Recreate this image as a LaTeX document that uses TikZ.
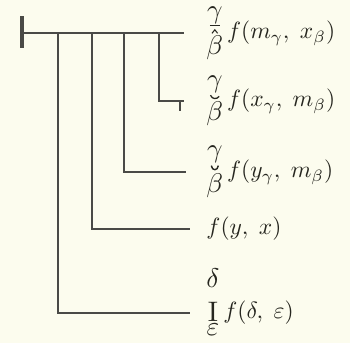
\documentclass[tikz,border=0pt]{standalone}
\usepackage{amssymb}
\usepackage{graphicx}
\definecolor{ink}{HTML}{4A4A46}
\definecolor{txt}{HTML}{26261F}
\definecolor{paper}{HTML}{FCFCEE}
% stack: [raise]{top}{mid}{bottom}{kern1}{kern2}
\newcommand\stk[6][0pt]{\raisebox{#1}{$\vcenter{\offinterlineskip\halign{\hfil##\hfil\cr#2\cr\noalign{\kern#5}#3\cr\noalign{\kern#6}#4\cr}}$}}
\newcommand\sbig[2]{\scalebox{#1}{$#2$}}
\newcommand\hatbar{\tikz[reset cm,x=1pt,y=1pt,baseline=0pt]{\draw[draw=txt,line width=0.6pt] (0,3.4)--(4.2,3.4); \draw[draw=txt,line width=0.45pt,line join=miter] (0.9,0.2)--(2.1,1.7)--(3.3,0.2);}}
\newcommand\smilea{\tikz[reset cm,x=1pt,y=1pt,baseline=0pt]{\draw[draw=txt,line width=0.55pt] (0,1.6) .. controls (0.8,-0.2) and (2.6,-0.2) .. (3.7,1.1);}}
\newcommand\smileb{\tikz[reset cm,x=1pt,y=1pt,baseline=0pt]{\draw[draw=txt,line width=0.6pt] (0,1.9) .. controls (0.3,-0.4) and (2.7,-0.4) .. (3,1.9);}}
\begin{document}
\begin{tikzpicture}[x=1pt,y=-1pt,
  wire/.style={draw=ink,line width=1.4pt},
  lab/.style={anchor=base west,inner sep=0pt,text=txt,scale=2.35}]
\fill[paper] (0,0) rectangle (350,343);
\useasboundingbox (0,0) rectangle (350,343);
% root bar
\coordinate (bt) at (22,16);
\coordinate (bb) at (22,48);
\coordinate (root) at (22,33);
\draw[ink,line width=4.5pt] (bt) -- (bb);
% main line
\coordinate (e0) at (184,33);
\draw[wire,line width=1.8pt] (root) -- (e0);
% branch points
\coordinate (a1) at (159,33);
\coordinate (a2) at (124,33);
\coordinate (a3) at (92,33);
\coordinate (a4) at (58,33);
% ends
\coordinate (e1) at (184,101);
\coordinate (e2) at (186,172);
\coordinate (e3) at (190,229);
\coordinate (e4) at (190,313);
\draw[wire] (a1) |- (e1);
\draw[wire] (a2) |- (e2);
\draw[wire] (a3) |- (e3);
\draw[wire] (a4) |- (e4);
% tick
\coordinate (t1) at (180,101);
\coordinate (t2) at (180,111);
\draw[wire] (t1) -- (t2);
% labels (base line = row + 5.9)
\node[lab] (L0) at (206,38.9) {$\stk{\sbig{1.15}{\gamma}}{\hatbar}{\sbig{1.15}{\beta}}{0.6pt}{0.6pt}\,f(m_\gamma,\;x_\beta)$};
\node[lab] (L1) at (206,106.9) {$\stk{\sbig{1.15}{\gamma}}{\smilea}{\sbig{1.15}{\beta}}{0.8pt}{0.9pt}\,f(x_\gamma,\;m_\beta)$};
\node[lab] (L2) at (206,177.9) {$\stk{\sbig{1.15}{\gamma}}{\smileb}{\sbig{1.15}{\beta}}{0.8pt}{0.9pt}\,f(y_\gamma,\;m_\beta)$};
\node[lab] (L3) at (206,234.9) {$f(y,\;x)$};
\node[lab] (L4) at (206,318.9) {$\stk[4.6pt]{\sbig{1.15}{\delta}}{\sbig{1.2}{\mathrm{I}}}{\sbig{1.15}{\varepsilon}}{6pt}{1pt}\,f(\delta,\;\varepsilon)$};
\end{tikzpicture}
\end{document}
